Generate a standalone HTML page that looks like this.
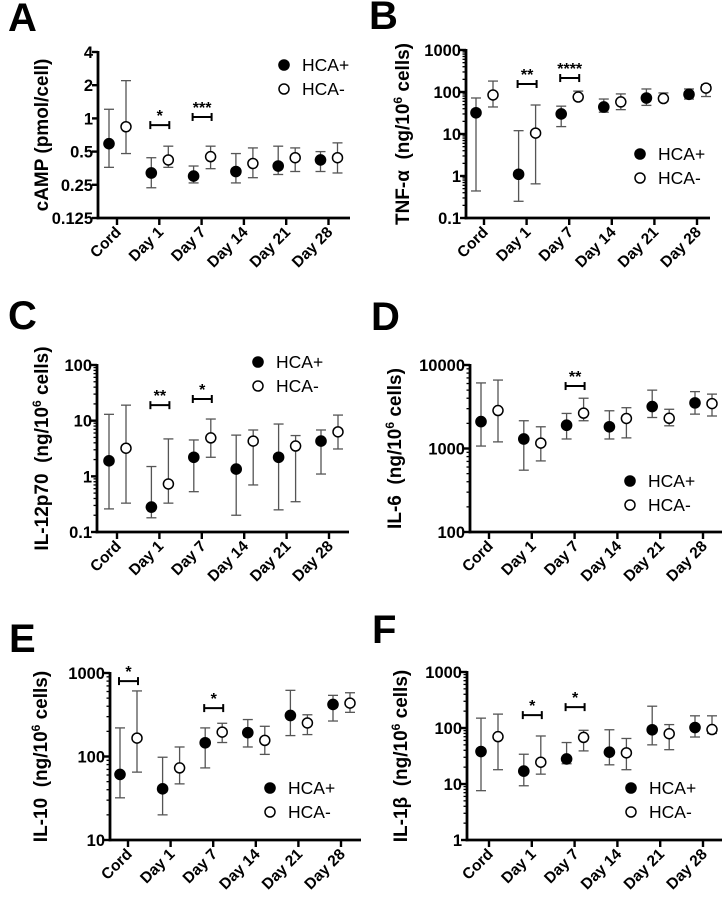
<!DOCTYPE html>
<html><head><meta charset="utf-8">
<style>
html,body{margin:0;padding:0;background:#fff;}
svg{display:block;font-family:"Liberation Sans",Arial,sans-serif;}
</style></head>
<body>
<svg id="fig" width="722" height="900" viewBox="0 0 722 900" xmlns="http://www.w3.org/2000/svg"></svg>
<script>
// ---- data ----
const categories = ["Cord","Day 1","Day 7","Day 14","Day 21","Day 28"];
// A: cAMP
const A_plus = [0.59,0.32,0.30,0.33,0.37,0.42];
const A_plusLo = [0.36,0.235,0.26,0.26,0.31,0.33];
const A_plusHi = [1.21,0.44,0.37,0.48,0.56,0.50];
const A_minus = [0.84,0.42,0.45,0.39,0.44,0.44];
const A_minusLo = [0.48,0.36,0.35,0.29,0.33,0.32];
const A_minusHi = [2.2,0.56,0.56,0.54,0.54,0.60];
const A_ticks = [0.125,0.25,0.5,1,2,4];
const A_tickLabels = ["0.125","0.25","0.5","1","2","4"];
const A_sigCat = [1,2]; const A_sigStars = ["*","***"]; const A_sigLevel = [0.87,1.03];
// B: TNF-a
const B_plus = [32,1.1,30,44,72,88];
const B_plusLo = [0.44,0.25,15,33,48,68];
const B_plusHi = [72,12,46,68,118,118];
const B_minus = [85,10.5,76,58,70,124];
const B_minusLo = [44,0.65,65,38,60,78];
const B_minusHi = [182,49,105,90,95,150];
const B_ticks = [0.1,1,10,100,1000];
const B_tickLabels = ["0.1","1","10","100","1000"];
const B_sigCat = [1,2]; const B_sigStars = ["**","****"]; const B_sigLevel = [155,215];
// C: IL-12p70
const C_plus = [1.9,0.28,2.2,1.35,2.2,4.3];
const C_plusLo = [0.26,0.18,0.53,0.2,0.25,1.1];
const C_plusHi = [13,1.5,4.5,5.5,8.7,6.8];
const C_minus = [3.2,0.73,4.9,4.3,3.5,6.3];
const C_minusLo = [0.33,0.33,2.2,0.7,0.35,3.1];
const C_minusHi = [19,4.7,10.7,6.8,5.4,12.6];
const C_ticks = [0.1,1,10,100];
const C_tickLabels = ["0.1","1","10","100"];
const C_sigCat = [1,2]; const C_sigStars = ["**","*"]; const C_sigLevel = [19,24.5];
// D: IL-6
const D_plus = [2100,1300,1900,1820,3180,3520];
const D_plusLo = [1070,550,1300,1300,2350,2580];
const D_plusHi = [6100,2150,2630,2830,5000,4800];
const D_minus = [2850,1160,2650,2290,2300,3450];
const D_minusLo = [1200,710,2150,1340,1870,2450];
const D_minusHi = [6600,1820,4000,3080,2950,4480];
const D_ticks = [100,1000,10000];
const D_tickLabels = ["100","1000","10000"];
const D_sigCat = [2]; const D_sigStars = ["**"]; const D_sigLevel = [5600];
// E: IL-10
const E_plus = [61,41,146,193,310,420];
const E_plusLo = [32,20,73,130,178,266];
const E_plusHi = [220,98,220,277,620,540];
const E_minus = [166,73,196,156,252,436];
const E_minusLo = [65,47,147,106,183,338];
const E_minusHi = [610,130,250,230,316,580];
const E_ticks = [10,100,1000];
const E_tickLabels = ["10","100","1000"];
const E_sigCat = [0,2]; const E_sigStars = ["*","*"]; const E_sigLevel = [800,380];
// F: IL-1b
const F_plus = [38,17,28,37,93,102];
const F_plusLo = [7.6,9.3,23,22,50,69];
const F_plusHi = [150,34,55,93,245,165];
const F_minus = [70,24.5,68,36,79,94];
const F_minusLo = [18,15,39,18,41,80];
const F_minusHi = [177,72,91,65,115,165];
const F_ticks = [1,10,100,1000];
const F_tickLabels = ["1","10","100","1000"];
const F_sigCat = [1,2]; const F_sigStars = ["*","*"]; const F_sigLevel = [170,236];

// ---- layout ----
const NS = "http://www.w3.org/2000/svg";
const svg = document.getElementById('fig');
function mk(tag, attrs, parent){const e=document.createElementNS(NS,tag);for(const k in attrs)e.setAttribute(k,attrs[k]);(parent||svg).appendChild(e);return e;}

const SUP='<tspan baseline-shift="super" font-size="12">6</tspan>';
const SP='&#160; ';
const panels = [
 {id:'a',letter:'A',lx:8,ly:31,title:'cAMP (pmol/cell)',tx:48,axX:98,yTop:52,yBot:218,xEnd:350,t0:117,step:42.3,minor:false,legX:284,legY:65,
  plus:A_plus,plusLo:A_plusLo,plusHi:A_plusHi,minus:A_minus,minusLo:A_minusLo,minusHi:A_minusHi,ticks:A_ticks,tl:A_tickLabels,sc:A_sigCat,ss:A_sigStars,sl:A_sigLevel},
 {id:'b',letter:'B',lx:369,ly:29,title:'TNF-α'+SP+'(ng/10'+SUP+' cells)',tx:409,axX:466,yTop:50,yBot:218,xEnd:710,t0:484,step:42.6,minor:true,legX:640,legY:154,
  plus:B_plus,plusLo:B_plusLo,plusHi:B_plusHi,minus:B_minus,minusLo:B_minusLo,minusHi:B_minusHi,ticks:B_ticks,tl:B_tickLabels,sc:B_sigCat,ss:B_sigStars,sl:B_sigLevel},
 {id:'c',letter:'C',lx:8,ly:329,title:'IL-12p70'+SP+'(ng/10'+SUP+' cells)',tx:48,axX:97,yTop:365,yBot:532,xEnd:349,t0:117,step:42.4,minor:true,legX:258,legY:362,
  plus:C_plus,plusLo:C_plusLo,plusHi:C_plusHi,minus:C_minus,minusLo:C_minusLo,minusHi:C_minusHi,ticks:C_ticks,tl:C_tickLabels,sc:C_sigCat,ss:C_sigStars,sl:C_sigLevel},
 {id:'d',letter:'D',lx:371,ly:330,title:'IL-6'+SP+'(ng/10'+SUP+' cells)',tx:401,axX:470,yTop:365,yBot:532,xEnd:722,t0:489,step:42.8,minor:true,legX:630,legY:481,
  plus:D_plus,plusLo:D_plusLo,plusHi:D_plusHi,minus:D_minus,minusLo:D_minusLo,minusHi:D_minusHi,ticks:D_ticks,tl:D_tickLabels,sc:D_sigCat,ss:D_sigStars,sl:D_sigLevel},
 {id:'e',letter:'E',lx:9,ly:652,title:'IL-10'+SP+'(ng/10'+SUP+' cells)',tx:47,axX:110,yTop:673,yBot:840,xEnd:361,t0:128,step:42.6,minor:true,legX:270,legY:788,
  plus:E_plus,plusLo:E_plusLo,plusHi:E_plusHi,minus:E_minus,minusLo:E_minusLo,minusHi:E_minusHi,ticks:E_ticks,tl:E_tickLabels,sc:E_sigCat,ss:E_sigStars,sl:E_sigLevel},
 {id:'f',letter:'F',lx:372,ly:643,title:'IL-1β'+SP+'(ng/10'+SUP+' cells)',tx:407,axX:467,yTop:672,yBot:840,xEnd:722,t0:489,step:42.8,minor:true,legX:631,legY:788,
  plus:F_plus,plusLo:F_plusLo,plusHi:F_plusHi,minus:F_minus,minusLo:F_minusLo,minusHi:F_minusHi,ticks:F_ticks,tl:F_tickLabels,sc:F_sigCat,ss:F_sigStars,sl:F_sigLevel}
];

panels.forEach(p=>{
  const g = mk('g',{});
  
  
  const lmin=Math.log(p.ticks[0]), lmax=Math.log(p.ticks[p.ticks.length-1]);
  const yS = v => p.yBot - (Math.log(v)-lmin)/(lmax-lmin)*(p.yBot-p.yTop);
  const xC = i => p.t0 + i*p.step;
  const xP = i => xC(i)-8, xM = i => xC(i)+9;

  const L = mk('text',{x:p.lx,y:p.ly,'font-size':40,'font-weight':'bold',fill:'#000'},g);
  L.textContent=p.letter;
  
  

  const cy=(p.yTop+p.yBot)/2;
  const T = mk('text',{x:p.tx,y:cy,'font-size':19,'font-weight':'bold','text-anchor':'middle',transform:`rotate(-90 ${p.tx} ${cy})`},g);
  T.innerHTML=p.title;
  
  

  const ya = mk('line',{x1:p.axX,y1:p.yTop-1,x2:p.axX,y2:p.yBot+1.2,stroke:'#000','stroke-width':2.8},g);
  
  
  const xa = mk('line',{x1:p.axX-1.4,y1:p.yBot,x2:p.xEnd,y2:p.yBot,stroke:'#000','stroke-width':2.8},g);
  
  

  p.ticks.forEach((t,i)=>{
    const y=yS(t);
    mk('line',{x1:p.axX-6,y1:y,x2:p.axX,y2:y,stroke:'#000','stroke-width':2.4},g);
    const tt=mk('text',{x:p.axX-5,y:y+6,'font-size':16.5,'font-weight':'bold','text-anchor':'end'},g);
    tt.textContent=p.tl[i];
    
    
    if(p.minor && i<p.ticks.length-1){
      for(let m=2;m<=9;m++){const ym=yS(t*m);mk('line',{x1:p.axX-3.5,y1:ym,x2:p.axX,y2:ym,stroke:'#000','stroke-width':1.3},g);}
    }
  });

  categories.forEach((c,i)=>{
    const x=xC(i);
    mk('line',{x1:x,y1:p.yBot,x2:x,y2:p.yBot+7,stroke:'#000','stroke-width':2.4},g);
    const tx=x+5, ty=p.yBot+15;
    const lt=mk('text',{x:tx,y:ty,'font-size':15.5,'font-weight':'bold','text-anchor':'end',transform:`rotate(-45 ${tx} ${ty})`},g);
    lt.textContent=c;
    
    
  });

  function series(vals,lo,hi,xf,filled,name){
    vals.forEach((v,i)=>{
      const x=xf(i);
      const eb=mk('g',{stroke:'#555','stroke-width':1.3},g);
      
      
      mk('line',{x1:x,y1:yS(lo[i]),x2:x,y2:yS(hi[i])},eb);
      mk('line',{x1:x-5,y1:yS(lo[i]),x2:x+5,y2:yS(lo[i])},eb);
      mk('line',{x1:x-5,y1:yS(hi[i]),x2:x+5,y2:yS(hi[i])},eb);
      const pt=mk('circle',{cx:x,cy:yS(v),r:filled?5.8:5,fill:filled?'#000':'#fff',stroke:'#000','stroke-width':filled?0:1.5},g);
      
      
    });
  }
  series(p.plus,p.plusLo,p.plusHi,xP,true,'hca-plus');
  series(p.minus,p.minusLo,p.minusHi,xM,false,'hca-minus');

  p.sc.forEach((ci,k)=>{
    const y=yS(p.sl[k]), x1=xP(ci)-1, x2=xM(ci)+1;
    const b=mk('g',{stroke:'#000','stroke-width':2},g);
    
    
    mk('line',{x1:x1,y1:y,x2:x2,y2:y},b);
    mk('line',{x1:x1,y1:y-4,x2:x1,y2:y+4},b);
    mk('line',{x1:x2,y1:y-4,x2:x2,y2:y+4},b);
    const s=mk('text',{x:(x1+x2)/2,y:y-4,'font-size':16,'font-weight':'bold','text-anchor':'middle'},g);
    s.textContent=p.ss[k];
    
    
  });

  const lg=mk('g',{},g);
  
  
  mk('circle',{cx:p.legX,cy:p.legY,r:5.8,fill:'#000'},lg);
  const l1=mk('text',{x:p.legX+18,y:p.legY+6,'font-size':17.5},lg);l1.textContent='HCA+';
  
  
  mk('circle',{cx:p.legX,cy:p.legY+24,r:5,fill:'#fff',stroke:'#000','stroke-width':1.5},lg);
  const l2=mk('text',{x:p.legX+18,y:p.legY+30,'font-size':17.5},lg);l2.textContent='HCA-';
  
  
});
</script>
</body></html>
